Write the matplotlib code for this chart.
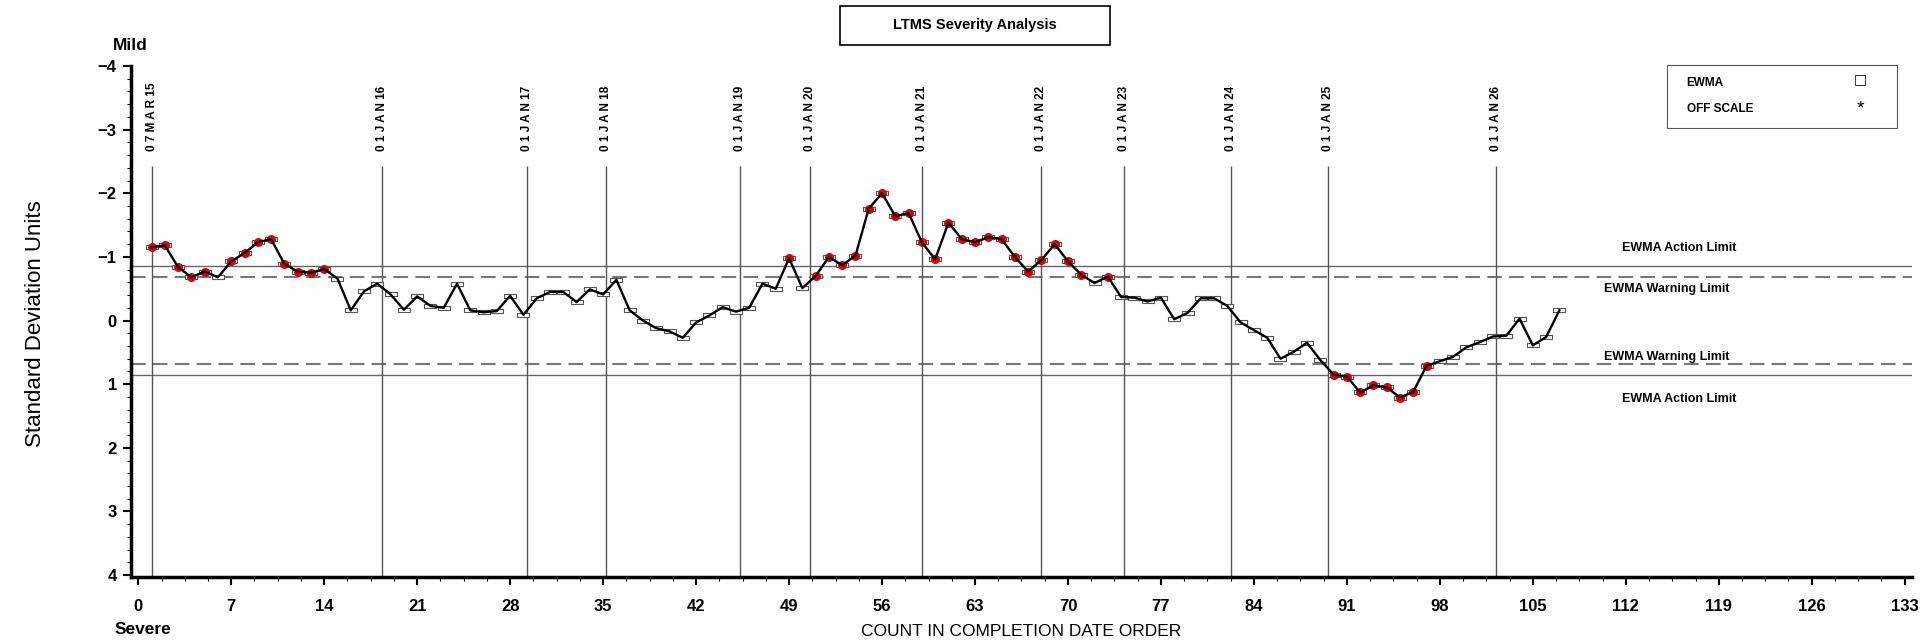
import matplotlib
matplotlib.use("Agg")
import matplotlib.pyplot as plt
from matplotlib.path import Path
from matplotlib.patches import Rectangle
from matplotlib.ticker import MultipleLocator

plt.rcParams['font.family'] = ['Liberation Sans', 'DejaVu Sans']

# EWMA values in completion order (test 1..107), negative = mild
ewma = [-1.15, -1.18, -0.84, -0.68, -0.77, -0.68, -0.93, -1.06, -1.23, -1.28,
        -0.89, -0.77, -0.75, -0.81, -0.66, -0.16, -0.46, -0.58, -0.41, -0.17,
        -0.38, -0.23, -0.20, -0.58, -0.16, -0.13, -0.15, -0.39, -0.09, -0.35,
        -0.45, -0.45, -0.29, -0.49, -0.41, -0.64, -0.16, 0.00, 0.12, 0.17,
        0.27, 0.03, -0.08, -0.21, -0.14, -0.20, -0.58, -0.50, -0.98, -0.51,
        -0.70, -1.00, -0.87, -1.02, -1.76, -2.00, -1.64, -1.69, -1.23, -0.96,
        -1.54, -1.28, -1.23, -1.31, -1.28, -1.00, -0.77, -0.95, -1.20, -0.93,
        -0.72, -0.59, -0.69, -0.37, -0.36, -0.30, -0.36, -0.02, -0.12, -0.35,
        -0.35, -0.23, 0.03, 0.15, 0.27, 0.60, 0.49, 0.35, 0.62, 0.85,
        0.88, 1.13, 1.02, 1.05, 1.21, 1.12, 0.71, 0.64, 0.57, 0.42,
        0.34, 0.25, 0.24, -0.03, 0.39, 0.26, -0.16]
count = list(range(1, len(ewma) + 1))

# tests flagged in red
flagged = [1, 2, 3, 4, 5, 7, 8, 9, 10, 11, 12, 13, 14, 49,
           51, 52, 53, 54, 55, 56, 57, 58, 59, 60, 61, 62, 63, 64, 65, 66,
           67, 68, 69, 70, 71, 73, 90, 91, 92, 93, 94, 95, 96, 97]

# date reference lines
date_labels = ['0 7 M A R 15', '0 1 J A N 16', '0 1 J A N 17', '0 1 J A N 18',
               '0 1 J A N 19', '0 1 J A N 20', '0 1 J A N 21', '0 1 J A N 22',
               '0 1 J A N 23', '0 1 J A N 24', '0 1 J A N 25', '0 1 J A N 26']
date_pos = [1.0, 18.35, 29.3, 35.2, 45.3, 50.6, 59.0, 68.0, 74.2, 82.3, 89.6, 102.2]

action_limit = 0.86
warning_limit = 0.69

W, H = 1921, 642
fig = plt.figure(figsize=(W / 100, H / 100), dpi=100)
ax = fig.add_axes([130.7 / W, 1 - 577 / H, (1912 - 130.7) / W, (577 - 66) / H])
ax.set_xlim(-0.57, 133.55)
ax.set_ylim(4.03, -4.0)

# limit lines
for v in (-action_limit, action_limit):
    ax.axhline(v, color='#666666', lw=1.0, zorder=1)
for v in (-warning_limit, warning_limit):
    ax.axhline(v, color='#777777', lw=1.5, dashes=(7, 3.5), zorder=1)

# date lines and labels
ax.vlines(date_pos, -2.43, 4.03, color='#555555', lw=1.0, zorder=1)
for xp, lab in zip(date_pos, date_labels):
    ax.text(xp, -2.66, lab, rotation=90, ha='center', va='bottom',
            fontsize=8.5, fontweight='bold')

# boxes, red points, line
box = Path([(-1.5, -0.5), (1.5, -0.5), (1.5, 0.5), (-1.5, 0.5), (-1.5, -0.5)],
           [Path.MOVETO, Path.LINETO, Path.LINETO, Path.LINETO, Path.CLOSEPOLY])
ax.plot(count, ewma, ls='none', marker=box, ms=8, mfc='white', mec='#555555',
        mew=0.8, zorder=2)
ax.plot(flagged, [ewma[i - 1] for i in flagged], ls='none', marker='o', ms=5.5,
        mfc='#e00000', mec='#e00000', zorder=3)
ax.plot(count, ewma, color='black', lw=1.7, zorder=4)

# limit labels
ax.text(116.0, -1.14, 'EWMA Action Limit', ha='center', va='center', fontsize=9, fontweight='bold')
ax.text(115.1, -0.49, 'EWMA Warning Limit', ha='center', va='center', fontsize=9, fontweight='bold')
ax.text(115.1, 0.575, 'EWMA Warning Limit', ha='center', va='center', fontsize=9, fontweight='bold')
ax.text(116.0, 1.24, 'EWMA Action Limit', ha='center', va='center', fontsize=9, fontweight='bold')

# axes styling
for s in ('top', 'right'):
    ax.spines[s].set_visible(False)
for s in ('left', 'bottom'):
    ax.spines[s].set_linewidth(2.5)
ax.set_xticks(range(0, 134, 7))
ax.xaxis.set_minor_locator(MultipleLocator(1.75))
ax.set_yticks(range(-4, 5))
ax.yaxis.set_minor_locator(MultipleLocator(0.2))
ax.tick_params(axis='both', which='major', length=6, width=1.5, labelsize=12)
ax.tick_params(axis='both', which='minor', length=3, width=0.8)
ax.tick_params(axis='x', pad=10)
ax.tick_params(axis='y', pad=4)
for t in ax.get_xticklabels() + ax.get_yticklabels():
    t.set_fontweight('bold')

# texts around the frame
fig.text(130 / W, 1 - 46 / H, 'Mild', ha='center', va='center', fontsize=12.5, fontweight='bold')
fig.text(143 / W, 1 - 630 / H, 'Severe', ha='center', va='center', fontsize=12.5, fontweight='bold')
fig.text(1021 / W, 1 - 632 / H, 'COUNT IN COMPLETION DATE ORDER', ha='center', va='center', fontsize=12.5)
fig.text(36 / W, 1 - 324 / H, 'Standard Deviation Units', rotation=90, ha='center', va='center', fontsize=16)

# title box
fig.patches.append(Rectangle((840 / W, 1 - 45 / H), 270 / W, 39 / H, transform=fig.transFigure,
                             fill=False, ec='black', lw=1.2))
fig.text(975 / W, 1 - 25 / H, 'LTMS Severity Analysis', ha='center', va='center', fontsize=10.5, fontweight='bold')

# legend box
fig.patches.append(Rectangle((1666.7 / W, 1 - 127.7 / H), 230 / W, 62.7 / H, transform=fig.transFigure,
                             fill=False, ec='#555555', lw=0.8))
fig.text(1686.7 / W, 1 - 82.7 / H, 'EWMA', ha='left', va='center', fontsize=8.5, fontweight='bold')
fig.text(1686.7 / W, 1 - 109.3 / H, 'OFF SCALE', ha='left', va='center', fontsize=8.5, fontweight='bold')
fig.text(1860 / W, 1 - 79 / H, '\u25a1', ha='center', va='center', fontsize=10, family='DejaVu Sans')
fig.text(1860 / W, 1 - 109 / H, '*', ha='center', va='center', fontsize=14)

fig.savefig('out.png', dpi=100)
